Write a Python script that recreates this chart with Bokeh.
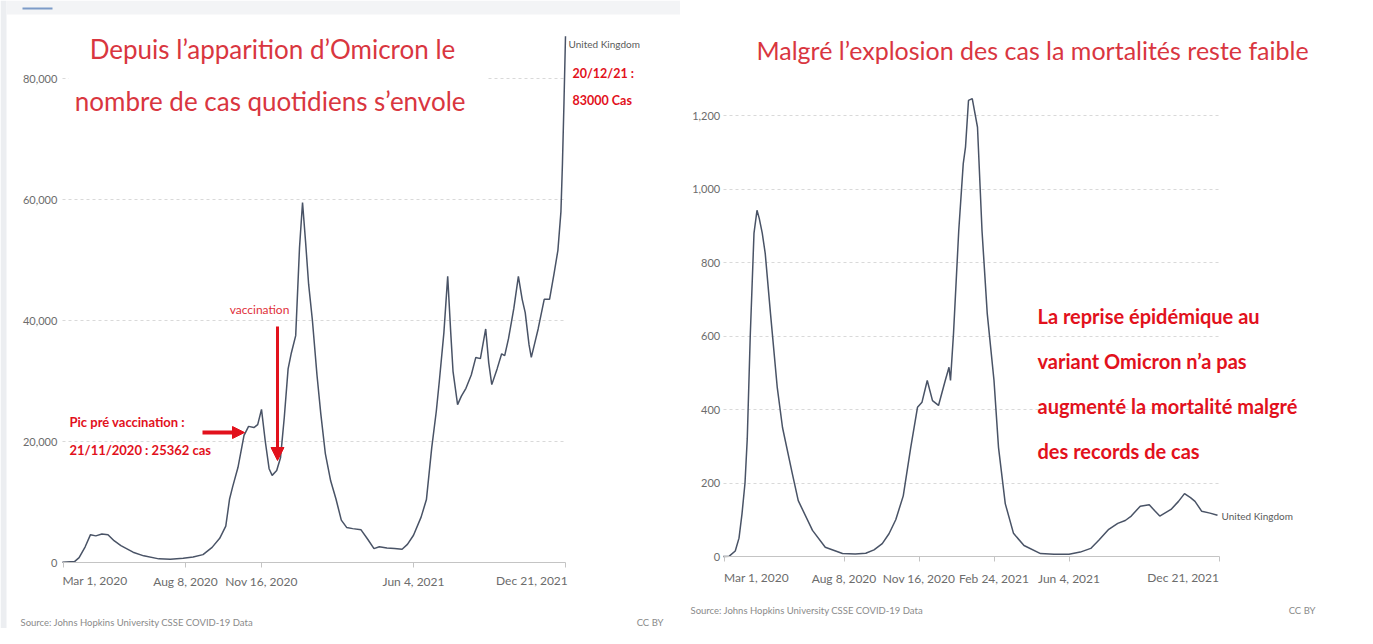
import pandas as pd
from bokeh.plotting import figure
from bokeh.layouts import row
from bokeh.models import (Range1d, FixedTicker, Label, Arrow, NormalHead,
                          NumeralTickFormatter, CustomJSTickFormatter, BoxAnnotation)
from bokeh.embed import file_html
from bokeh.resources import INLINE

# ---------------- data: United Kingdom, daily new confirmed cases (7-day avg) -------------
case_dates = [
    "2020-02-28", "2020-03-15", "2020-03-21", "2020-03-29", "2020-04-05", "2020-04-12",
    "2020-04-20", "2020-04-28", "2020-05-06", "2020-05-15", "2020-05-31", "2020-06-14",
    "2020-07-04", "2020-07-19", "2020-08-05", "2020-08-18", "2020-08-31", "2020-09-12",
    "2020-09-22", "2020-09-30", "2020-10-05", "2020-10-09", "2020-10-16", "2020-10-24",
    "2020-10-30", "2020-11-06", "2020-11-11", "2020-11-16", "2020-11-21", "2020-11-26",
    "2020-11-30", "2020-12-06", "2020-12-11", "2020-12-16", "2020-12-21", "2020-12-25",
    "2020-12-31", "2021-01-05", "2021-01-09", "2021-01-13", "2021-01-17", "2021-01-22",
    "2021-01-28", "2021-02-02", "2021-02-08", "2021-02-15", "2021-02-22", "2021-03-01",
    "2021-03-08", "2021-03-16", "2021-03-27", "2021-04-05", "2021-04-13", "2021-04-20",
    "2021-04-30", "2021-05-10", "2021-05-20", "2021-05-27", "2021-06-04", "2021-06-14",
    "2021-06-21", "2021-06-28", "2021-07-04", "2021-07-08", "2021-07-14", "2021-07-19",
    "2021-07-23", "2021-07-26", "2021-08-01", "2021-08-06", "2021-08-12", "2021-08-19",
    "2021-08-25", "2021-08-31", "2021-09-07", "2021-09-11", "2021-09-15", "2021-09-22",
    "2021-09-28", "2021-10-02", "2021-10-07", "2021-10-14", "2021-10-20", "2021-10-25",
    "2021-10-29", "2021-11-03", "2021-11-06", "2021-11-11", "2021-11-15", "2021-11-23",
    "2021-11-30", "2021-12-06", "2021-12-11", "2021-12-15", "2021-12-17", "2021-12-19",
    "2021-12-21",
]
case_values = [
    30, 150, 800, 2600, 4600, 4400,
    4700, 4600, 3600, 2800, 1700, 1100,
    600, 550, 700, 900, 1300, 2500,
    4000, 6000, 10500, 12500, 15700, 21000,
    22500, 22300, 22800, 25300, 20000, 15500,
    14400, 15200, 17300, 24000, 32000, 34500,
    37500, 52000, 59500, 53000, 46000, 40000,
    31000, 24600, 18000, 13500, 10500, 7000,
    5800, 5600, 5400, 3800, 2300, 2600,
    2400, 2300, 2200, 3000, 4500, 7500,
    10400, 19000, 25000, 30000, 38000, 47300,
    38000, 31600, 26100, 27500, 28800, 31000,
    33900, 33700, 38600, 33000, 29400, 32000,
    34500, 34200, 37000, 42000, 47300, 43500,
    41300, 36000, 33900, 36500, 38600, 43500,
    43500, 47800, 51600, 58000, 66000, 76000,
    87000,
]

# ---------------- data: United Kingdom, daily new confirmed deaths (7-day avg) ------------
death_dates = [
    "2020-02-29", "2020-03-08", "2020-03-16", "2020-03-21", "2020-03-25", "2020-03-29",
    "2020-04-01", "2020-04-05", "2020-04-10", "2020-04-14", "2020-04-17", "2020-04-21",
    "2020-04-25", "2020-05-02", "2020-05-11", "2020-05-18", "2020-05-31", "2020-06-08",
    "2020-06-27", "2020-07-14", "2020-08-06", "2020-08-23", "2020-09-06", "2020-09-17",
    "2020-09-28", "2020-10-07", "2020-10-16", "2020-10-26", "2020-11-05", "2020-11-14",
    "2020-11-20", "2020-11-27", "2020-12-04", "2020-12-12", "2020-12-21", "2020-12-26",
    "2020-12-28", "2021-01-01", "2021-01-08", "2021-01-14", "2021-01-17", "2021-01-21",
    "2021-01-26", "2021-02-02", "2021-02-08", "2021-02-15", "2021-02-24", "2021-03-02",
    "2021-03-11", "2021-03-22", "2021-04-05", "2021-04-27", "2021-05-15", "2021-06-04",
    "2021-06-19", "2021-07-03", "2021-07-14", "2021-07-27", "2021-08-08", "2021-08-18",
    "2021-08-26", "2021-09-07", "2021-09-19", "2021-09-26", "2021-10-03", "2021-10-18",
    "2021-10-28", "2021-11-05", "2021-11-13", "2021-11-19", "2021-11-28", "2021-12-09",
    "2021-12-19",
]
death_values = [
    0, 1, 15, 50, 116, 200,
    320, 600, 880, 942, 920, 880,
    824, 661, 460, 351, 226, 152,
    71, 25, 8, 7, 9, 18,
    35, 62, 100, 165, 297, 406,
    420, 479, 424, 411, 479, 515,
    479, 606, 887, 1069, 1114, 1241,
    1246, 1168, 887, 661, 479, 297,
    144, 63, 30, 8, 6, 6,
    12, 22, 45, 74, 90, 98,
    110, 137, 141, 125, 110, 128,
    150, 171, 160, 150, 123, 118,
    112,
]

# ---------------- axis ticks ----------------
cases_xticks = ["2020-03-01", "2020-08-08", "2020-11-16", "2021-06-04", "2021-12-21"]
cases_xlabels = ["Mar 1, 2020", "Aug 8, 2020", "Nov 16, 2020", "Jun 4, 2021", "Dec 21, 2021"]
cases_yticks = [0, 20000, 40000, 60000, 80000]

deaths_xticks = ["2020-03-01", "2020-08-08", "2020-11-16", "2021-02-24", "2021-06-04", "2021-12-21"]
deaths_xlabels = ["Mar 1, 2020", "Aug 8, 2020", "Nov 16, 2020", "Feb 24, 2021", "Jun 4, 2021", "Dec 21, 2021"]
deaths_yticks = [0, 200, 400, 600, 800, 1000, 1200]

series_name = "United Kingdom"
source_text = "Source: Johns Hopkins University CSSE COVID-19 Data"
licence_text = "CC BY"

DAY = 86400000.0


def ms(d):
    return pd.Timestamp(d).value / 1e6


LINE = "#495366"
GRID = "#d9d9d9"
TICK_TXT = "#6c6c6c"
AXIS = "#c4c4c4"
RED_T = "#d9363f"
RED_B = "#e2111c"
FONT = "Lato"
H = 628
PAGE_Y0 = 0


class PageMap:
    """maps pixels of the reference picture to data coordinates of one figure"""
    def __init__(self, px0, width, anchor_px, anchor_date, px_per_day, zero_py, px_per_unit):
        self.px0, self.width = px0, width
        self.apx, self.ams, self.ppd = anchor_px, ms(anchor_date), px_per_day
        self.zpy, self.ppu = zero_py, px_per_unit

    def x(self, px):
        return self.ams + (px - self.apx) / self.ppd * DAY

    def y(self, py):
        return (self.zpy - py) / self.ppu

    def ranges(self):
        return (Range1d(self.x(self.px0), self.x(self.px0 + self.width)),
                Range1d(self.y(PAGE_Y0 + H), self.y(PAGE_Y0)))


def make_fig(m, width, x_start, x_end, xticks, xlabels, yticks, ystand, xstand):
    xr, yr = m.ranges()
    p = figure(width=width, height=H, x_axis_type="datetime", x_range=xr, y_range=yr,
               output_backend="svg", toolbar_location=None, min_border=0)
    p.outline_line_color = None
    p.background_fill_color = "white"
    p.border_fill_color = "white"
    p.xgrid.visible = False
    p.ygrid.grid_line_color = GRID
    p.ygrid.grid_line_dash = "3 3"
    p.ygrid.grid_line_width = 1
    p.ygrid.cross_bounds = (ms(x_start), ms(x_end))

    ya = p.yaxis[0]
    ya.fixed_location = ms(x_start)
    ya.ticker = FixedTicker(ticks=yticks, minor_ticks=[])
    ya.formatter = NumeralTickFormatter(format="0,0")
    ya.axis_line_color = None
    ya.major_tick_line_color = None
    ya.minor_tick_line_color = None
    ya.major_tick_out = 0
    ya.major_tick_in = 0
    ya.major_label_standoff = ystand
    ya.major_label_text_font = FONT
    ya.major_label_text_font_size = "11px"
    ya.major_label_text_color = TICK_TXT

    xa = p.xaxis[0]
    xa.fixed_location = 0
    xa.bounds = (ms(x_start), ms(x_end))
    tvals = [ms(d) for d in xticks]
    xa.ticker = FixedTicker(ticks=tvals, minor_ticks=[])
    xa.formatter = CustomJSTickFormatter(
        args=dict(vals=tvals, labels=xlabels),
        code="const i = vals.indexOf(tick); return (i <= 0 || i == vals.length - 1) ? '' : labels[i];")
    xa.axis_line_color = AXIS
    xa.axis_line_width = 1
    xa.major_tick_line_color = AXIS
    xa.major_tick_out = 5
    xa.major_tick_in = 0
    xa.minor_tick_line_color = None
    xa.major_label_standoff = xstand
    xa.major_label_text_font = FONT
    xa.major_label_text_font_size = "12px"
    xa.major_label_text_color = TICK_TXT
    return p


def lab(p, x, y, text, size, color, style="normal", align="left", baseline="middle"):
    p.add_layout(Label(x=x, y=y, text=text, text_font=FONT, text_font_size=size,
                       text_color=color, text_font_style=style, text_align=align,
                       text_baseline=baseline))


def box(p, m, x0, x1, y0, y1, color):
    p.add_layout(BoxAnnotation(left=m.x(x0), right=m.x(x1), top=m.y(y0), bottom=m.y(y1),
                               fill_color=color, fill_alpha=1, line_color=None, level="underlay"))


# ======================= left chart: cases =======================
mL = PageMap(0, 680, 63.4, "2020-03-01", 0.76, 562, 6.05 / 1000)
p1 = make_fig(mL, 680, case_dates[0], cases_xticks[-1],
              cases_xticks, cases_xlabels, cases_yticks, 5, 6)

# screenshot frame of the original page (light grey edge, top bar and tab marker)
box(p1, mL, 0, 6, 0, 628, "#eceef1")
box(p1, mL, 6, 680, 0, 14, "#f3f4f6")
box(p1, mL, 22, 52, 7, 9, "#7d9bc8")

p1.line(x=pd.to_datetime(case_dates), y=case_values, line_color=LINE, line_width=1.5)

# edge tick labels, aligned to the chart edges
lab(p1, ms(cases_xticks[0]) - DAY * 2, mL.y(580), cases_xlabels[0], "12px", TICK_TXT, align="left")
lab(p1, ms(cases_xticks[-1]) + DAY * 3, mL.y(580), cases_xlabels[-1], "12px", TICK_TXT, align="right")

# title box
p1.add_layout(BoxAnnotation(left=mL.x(68), right=mL.x(486), top=mL.y(18), bottom=mL.y(124),
                            fill_color="white", fill_alpha=1, line_color=None))
lab(p1, mL.x(272), mL.y(48), "Depuis l\u2019apparition d\u2019Omicron le", "26px", RED_T, align="center")
lab(p1, mL.x(273), mL.y(100), "nombre de cas quotidiens  s\u2019envole", "26px", RED_T, align="center")

# series label + red note
lab(p1, mL.x(568), mL.y(43), series_name, "10px", "#5a5a5a")
lab(p1, mL.x(572), mL.y(73), "20/12/21 :", "12.5px", RED_B, style="bold")
lab(p1, mL.x(572), mL.y(100), "83000 Cas", "12.5px", RED_B, style="bold")

# vaccination arrow
lab(p1, mL.x(259), mL.y(309), "vaccination", "12px", "#e0303a", align="center")
p1.add_layout(Arrow(end=NormalHead(size=13, fill_color=RED_B, line_color=RED_B),
                    x_start=mL.x(277), y_start=mL.y(326), x_end=mL.x(277), y_end=mL.y(460),
                    line_color=RED_B, line_width=3))

# pre-vaccination peak note
lab(p1, mL.x(69), mL.y(421), "Pic pr\u00e9 vaccination :", "13px", RED_B, style="bold")
lab(p1, mL.x(69), mL.y(449), "21/11/2020  : 25362 cas", "13px", RED_B, style="bold")
p1.add_layout(Arrow(end=NormalHead(size=12, fill_color=RED_B, line_color=RED_B),
                    x_start=mL.x(202), y_start=mL.y(432), x_end=mL.x(244), y_end=mL.y(432),
                    line_color=RED_B, line_width=4))

# footer
lab(p1, mL.x(20), mL.y(622), source_text, "9.5px", "#8a8a8a")
lab(p1, mL.x(663), mL.y(622), licence_text, "9.5px", "#8a8a8a", align="right")

# ======================= right chart: deaths =======================
mR = PageMap(680, 677, 723.5, "2020-03-01", 0.75, 556, 0.3675)
p2 = make_fig(mR, 677, death_dates[0], deaths_xticks[-1],
              deaths_xticks, deaths_xlabels, deaths_yticks, 3, 9)

p2.line(x=pd.to_datetime(death_dates), y=death_values, line_color=LINE, line_width=1.5)

lab(p2, ms(deaths_xticks[0]), mR.y(577), deaths_xlabels[0], "12px", TICK_TXT, align="left")
lab(p2, ms(deaths_xticks[-1]), mR.y(577), deaths_xlabels[-1], "12px", TICK_TXT, align="right")

lab(p2, mR.x(1032), mR.y(49), "Malgr\u00e9 l\u2019explosion des cas la mortalit\u00e9s reste faible",
    "25px", RED_T, align="center")

lab(p2, mR.x(1221), mR.y(515), series_name, "10px", "#5a5a5a")

note_lines = ["La reprise \u00e9pid\u00e9mique au", "variant Omicron n\u2019a pas",
              "augment\u00e9 la mortalit\u00e9 malgr\u00e9", "des records de cas"]
for txt, py in zip(note_lines, [315, 360, 405, 450]):
    lab(p2, mR.x(1037), mR.y(py), txt, "20px", RED_B, style="bold")

lab(p2, mR.x(690), mR.y(610), source_text, "9.5px", "#8a8a8a")
lab(p2, mR.x(1315), mR.y(610), licence_text, "9.5px", "#8a8a8a", align="right")

layout = row(p1, p2)
open("out.html", "w").write(file_html(layout, INLINE))
